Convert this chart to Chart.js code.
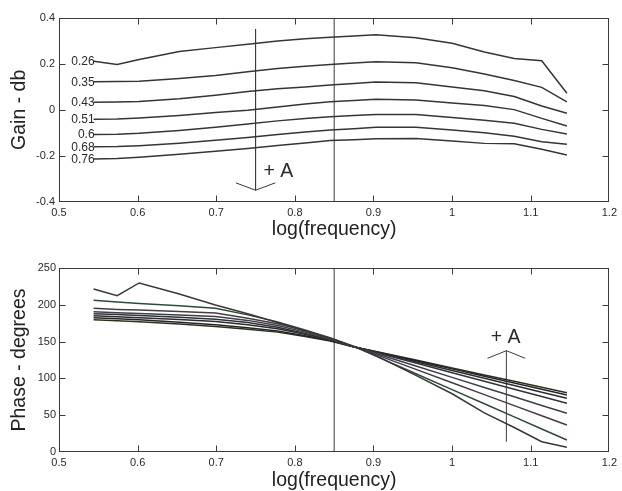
<!DOCTYPE html>
<html>
<head>
<meta charset="utf-8">
<script src="https://cdn.jsdelivr.net/npm/chart.js@4/dist/chart.umd.min.js"></script>
<style>
  html, body { margin: 0; padding: 0; background: #fff; overflow: hidden; }
  #wrap { position: relative; width: 622px; height: 491px; overflow: hidden; }
  canvas { position: absolute; left: 0; }
</style>
</head>
<body>
<div id="wrap">
  <canvas id="gain" width="622" height="245" style="top:0"></canvas>
  <canvas id="phase" width="622" height="249" style="top:245px"></canvas>
</div>
<script>
// Measurement frequencies, log10(Hz)
const logFrequency = [0.544, 0.574, 0.602, 0.653, 0.699, 0.740, 0.778, 0.813, 0.845, 0.875, 0.903, 0.954, 1.000, 1.041, 1.079, 1.114, 1.146];

// Amplitude A of each run
const amplitudes = ['0.26', '0.35', '0.43', '0.51', '0.6', '0.68', '0.76', '0.85'];

// Gain (db) per amplitude
const gain026 = [0.212, 0.198, 0.219, 0.254, 0.271, 0.286, 0.300, 0.310, 0.316, 0.322, 0.327, 0.314, 0.290, 0.252, 0.224, 0.214, 0.072];
const gain035 = [0.122, 0.123, 0.125, 0.137, 0.150, 0.166, 0.180, 0.190, 0.198, 0.204, 0.210, 0.205, 0.183, 0.156, 0.128, 0.098, 0.035];
const gain043 = [0.033, 0.034, 0.036, 0.048, 0.064, 0.080, 0.092, 0.100, 0.108, 0.115, 0.121, 0.118, 0.100, 0.083, 0.058, 0.017, -0.015];
const gain051 = [-0.041, -0.040, -0.036, -0.025, -0.012, -0.002, 0.012, 0.025, 0.035, 0.041, 0.046, 0.043, 0.030, 0.019, 0.001, -0.037, -0.070];
const gain060 = [-0.107, -0.106, -0.102, -0.090, -0.076, -0.062, -0.048, -0.038, -0.030, -0.025, -0.020, -0.020, -0.033, -0.045, -0.058, -0.085, -0.105];
const gain068 = [-0.161, -0.160, -0.156, -0.145, -0.132, -0.120, -0.107, -0.096, -0.088, -0.082, -0.076, -0.076, -0.088, -0.100, -0.115, -0.139, -0.150];
const gain076 = [-0.214, -0.212, -0.206, -0.193, -0.180, -0.168, -0.155, -0.144, -0.134, -0.130, -0.126, -0.125, -0.136, -0.146, -0.148, -0.172, -0.197];

// Phase (degrees) per amplitude
const phase026 = [221.8, 212.7, 230.0, 215.0, 200.0, 188.0, 176.0, 165.0, 155.0, 143.5, 131.0, 104.0, 79.0, 53.0, 33.0, 13.6, 6.0];
const phase035 = [206.5, 204.0, 202.0, 199.0, 195.5, 186.5, 177.0, 166.0, 155.0, 143.5, 130.3, 106.3, 84.6, 65.3, 47.4, 30.9, 15.9];
const phase043 = [195.4, 194.0, 193.0, 191.0, 189.0, 182.0, 174.5, 165.0, 154.5, 143.2, 132.3, 112.2, 94.0, 77.8, 62.8, 49.0, 36.4];
const phase051 = [190.9, 189.5, 188.5, 186.5, 184.2, 179.0, 172.0, 163.0, 153.5, 143.0, 133.9, 116.8, 101.3, 87.6, 74.8, 63.0, 52.3];
const phase060 = [188.2, 187.0, 185.5, 183.3, 180.6, 176.0, 169.5, 161.0, 152.5, 143.0, 135.3, 120.8, 107.7, 96.0, 85.1, 75.2, 66.0];
const phase068 = [185.4, 184.0, 182.6, 180.2, 177.5, 173.0, 167.5, 160.0, 152.0, 143.0, 136.0, 122.7, 110.8, 100.1, 90.2, 81.1, 72.8];
const phase076 = [182.7, 181.3, 179.8, 176.5, 173.0, 169.0, 164.5, 158.0, 151.5, 143.0, 136.4, 124.0, 112.9, 102.9, 93.7, 85.2, 77.3];
const phase085 = [180.0, 178.6, 177.2, 174.0, 170.7, 167.0, 163.0, 157.0, 150.8, 142.8, 136.7, 124.9, 114.2, 104.7, 95.9, 87.8, 80.4];

// Axis ticks
const xTicks = [0.5, 0.6, 0.7, 0.8, 0.9, 1.0, 1.1, 1.2];
const gainTicks = [-0.4, -0.2, 0, 0.2, 0.4];
const phaseTicks = [0, 50, 100, 150, 200, 250];

// Reference marker (vertical line) and "+A" direction arrows, in data units
const markerFrequency = 0.85;
const gainArrow = { x: 0.75, from: 0.352, to: -0.35, headDx: 0.025, headDy: 0.032, text: { x: 0.779, y: -0.267 } };
const phaseArrow = { x: 1.069, from: 13.6, to: 137.7, headDx: 0.024, headDy: 10.4, text: { x: 1.068, y: 155.7 } };

const FONT = "'Liberation Sans', Arial, Helvetica, sans-serif";
const INK = '#2a2a2a';
const LINE = '#353535';

const series = values => values.map((v, i) => ({ x: logFrequency[i], y: v }));

const curve = (label, values, color) => ({
  label, data: series(values), borderColor: color || LINE, borderWidth: 1.5,
  pointRadius: 0, tension: 0, fill: false
});

const guide = (points, width) => ({
  label: '', data: points, borderColor: '#3a3a3a', borderWidth: width || 1,
  pointRadius: 0, tension: 0, fill: false
});

// Box frame, inward tick marks and text annotations
const framePlugin = {
  id: 'frame',
  afterDatasetsDraw(chart, args, opts) {
    const { ctx, chartArea: a, scales: { x, y } } = chart;
    ctx.save();
    ctx.strokeStyle = '#3a3a3a';
    ctx.lineWidth = 1;
    const L = Math.round(a.left) + 0.5, R = Math.round(a.right) - 0.5;
    const T = Math.round(a.top) + 0.5, B = Math.round(a.bottom) - 0.5;
    ctx.strokeRect(L, T, R - L, B - T);
    const len = 6;
    ctx.beginPath();
    opts.xTicks.forEach(v => {
      const px = Math.round(x.getPixelForValue(v)) + 0.5;
      if (px <= L + 1 || px >= R - 1) return;
      ctx.moveTo(px, B); ctx.lineTo(px, B - len);
      ctx.moveTo(px, T); ctx.lineTo(px, T + len);
    });
    opts.yTicks.forEach(v => {
      const py = Math.round(y.getPixelForValue(v)) + 0.5;
      if (py <= T + 1 || py >= B - 1) return;
      ctx.moveTo(L, py); ctx.lineTo(L + len, py);
      ctx.moveTo(R, py); ctx.lineTo(R - len, py);
    });
    ctx.stroke();

    ctx.fillStyle = INK;
    if (opts.curveLabels) {
      ctx.font = '12px ' + FONT;
      ctx.textAlign = 'right';
      ctx.textBaseline = 'middle';
      opts.curveLabels.forEach((text, i) => {
        const pt = chart.getDatasetMeta(i).data[0];
        ctx.fillText(text, pt.x + 1, pt.y + 0.5);
      });
    }
    if (opts.arrowText) {
      ctx.font = '19.5px ' + FONT;
      ctx.textAlign = 'center';
      ctx.textBaseline = 'middle';
      ctx.fillText('+ A', x.getPixelForValue(opts.arrowText.x), y.getPixelForValue(opts.arrowText.y));
    }
    ctx.restore();
  }
};

function axes(yMin, yMax, yStep, yTitle, canvasH, plotBottom, xTitlePad, yPad) {
  const tickFont = { family: FONT, size: 11 };
  const titleFont = { family: FONT, size: 19.5 };
  return {
    x: {
      type: 'linear', min: 0.5, max: 1.2,
      ticks: { stepSize: 0.1, padding: 5, color: INK, font: tickFont, maxRotation: 0, autoSkip: false,
               callback: v => String(Math.round(v * 10) / 10) },
      grid: { display: false, drawTicks: false }, border: { display: false },
      title: { display: true, text: 'log(frequency)', color: '#222', font: titleFont, padding: { top: 0, bottom: xTitlePad } },
      afterFit(s) { s.height = canvasH - plotBottom; }
    },
    y: {
      type: 'linear', min: yMin, max: yMax,
      ticks: { stepSize: yStep, padding: yPad, color: INK, font: tickFont,
               callback: v => String(Math.round(v * 100) / 100) },
      grid: { display: false, drawTicks: false }, border: { display: false },
      title: { display: true, text: yTitle, color: '#222', font: titleFont, padding: { top: 8, bottom: 0 } },
      afterFit(s) { s.width = 59; }
    }
  };
}

const baseOptions = (top) => ({
  responsive: false, animation: false, events: [],
  layout: { padding: { top, right: 9.3, left: 0, bottom: 0 } }
});

new Chart(document.getElementById('gain'), {
  type: 'line',
  data: {
    datasets: [
      curve(amplitudes[0], gain026), curve(amplitudes[1], gain035), curve(amplitudes[2], gain043),
      curve(amplitudes[3], gain051), curve(amplitudes[4], gain060), curve(amplitudes[5], gain068),
      curve(amplitudes[6], gain076),
      guide([{ x: markerFrequency, y: -0.4 }, { x: markerFrequency, y: 0.4 }]),
      guide([{ x: gainArrow.x, y: gainArrow.from }, { x: gainArrow.x, y: gainArrow.to }]),
      guide([{ x: gainArrow.x - gainArrow.headDx, y: gainArrow.to + gainArrow.headDy },
             { x: gainArrow.x, y: gainArrow.to },
             { x: gainArrow.x + gainArrow.headDx, y: gainArrow.to + gainArrow.headDy }])
    ]
  },
  options: {
    ...baseOptions(18),
    plugins: {
      legend: { display: false }, tooltip: { enabled: false },
      frame: { xTicks, yTicks: gainTicks, curveLabels: amplitudes.slice(0, 7), arrowText: gainArrow.text }
    },
    scales: axes(-0.4, 0.4, 0.2, 'Gain - db', 245, 201.7, 3.3, 4)
  },
  plugins: [framePlugin]
});

new Chart(document.getElementById('phase'), {
  type: 'line',
  data: {
    datasets: [
      curve(amplitudes[0], phase026, '#383838'), curve(amplitudes[1], phase035, '#2f4a38'),
      curve(amplitudes[2], phase043, '#4a3a44'), curve(amplitudes[3], phase051, '#3a3f4e'),
      curve(amplitudes[4], phase060, '#323232'), curve(amplitudes[5], phase068, '#2b2b33'),
      curve(amplitudes[6], phase076, '#252525'), curve(amplitudes[7], phase085, '#2a3320'),
      guide([{ x: markerFrequency, y: 0 }, { x: markerFrequency, y: 250 }]),
      guide([{ x: phaseArrow.x, y: phaseArrow.from }, { x: phaseArrow.x, y: phaseArrow.to }]),
      guide([{ x: phaseArrow.x - phaseArrow.headDx, y: phaseArrow.to - phaseArrow.headDy },
             { x: phaseArrow.x, y: phaseArrow.to },
             { x: phaseArrow.x + phaseArrow.headDx, y: phaseArrow.to - phaseArrow.headDy }])
    ]
  },
  options: {
    ...baseOptions(23.3),
    plugins: {
      legend: { display: false }, tooltip: { enabled: false },
      frame: { xTicks, yTicks: phaseTicks, arrowText: phaseArrow.text }
    },
    scales: axes(0, 250, 50, 'Phase - degrees', 249, 206.7, 1.3, 3)
  },
  plugins: [framePlugin]
});
</script>
</body>
</html>
